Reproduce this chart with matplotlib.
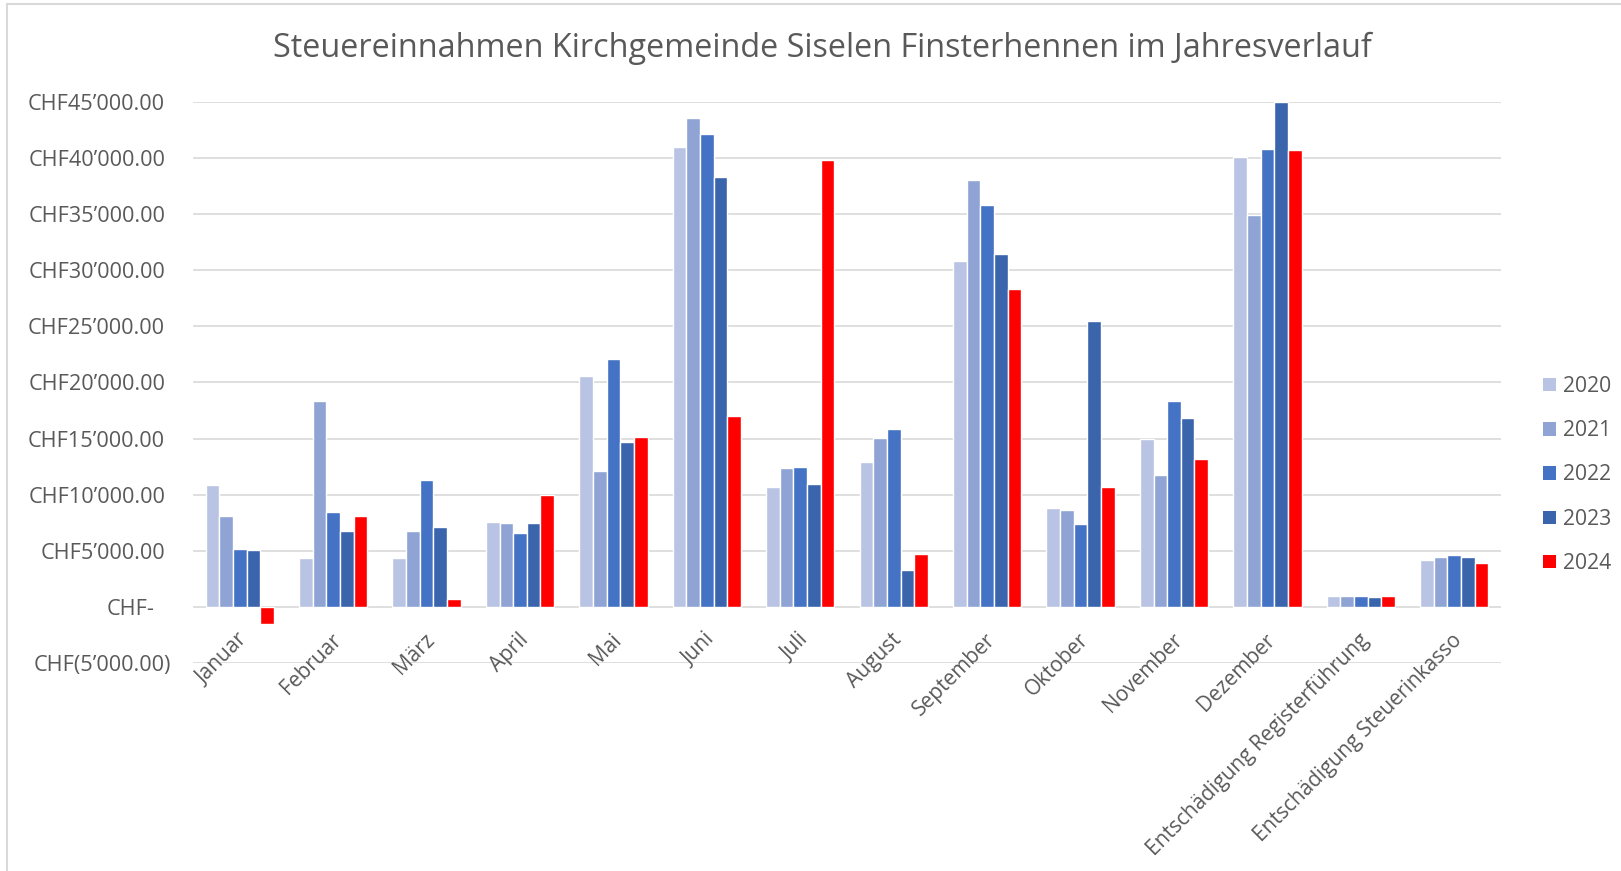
import matplotlib
matplotlib.use("Agg")
import matplotlib.pyplot as plt
import matplotlib.transforms as mtransforms
from matplotlib.lines import Line2D
from matplotlib.patches import Patch
import numpy as np

plt.rcParams['font.family'] = ['Open Sans', 'DejaVu Sans']

categories = ['Januar', 'Februar', 'März', 'April', 'Mai', 'Juni', 'Juli', 'August',
              'September', 'Oktober', 'November', 'Dezember',
              'Entschädigung Registerführung', 'Entschädigung Steuerinkasso']
years = ['2020', '2021', '2022', '2023', '2024']

v2020 = [10900, 4400, 4400, 7600, 20600, 41000, 10700, 12900, 30850, 8800, 14950, 40100, 950, 4200]
v2021 = [8100, 18350, 6800, 7450, 12150, 43600, 12350, 15050, 38050, 8650, 11750, 34950, 950, 4450]
v2022 = [5150, 8450, 11300, 6600, 22050, 42150, 12450, 15850, 35800, 7400, 18350, 40850, 950, 4600]
v2023 = [5100, 6750, 7100, 7450, 14700, 38350, 10950, 3300, 31450, 25500, 16850, 45000, 900, 4450]
v2024 = [-1500, 8100, 700, 9950, 15150, 17000, 39800, 4700, 28300, 10700, 13150, 40750, 950, 3900]

yticks = [-5000, 0, 5000, 10000, 15000, 20000, 25000, 30000, 35000, 40000, 45000]
ytick_labels = ['CHF(5’000.00)', 'CHF-', 'CHF5’000.00', 'CHF10’000.00', 'CHF15’000.00',
                'CHF20’000.00', 'CHF25’000.00', 'CHF30’000.00', 'CHF35’000.00',
                'CHF40’000.00', 'CHF45’000.00']

colors = ['#B9C3E3', '#8FA4D4', '#4472C4', '#3A64AC', '#FF0000']
text_col = '#595959'
grid_col = '#D9D9D9'

W, H = 1621, 871
fig = plt.figure(figsize=(W / 100, H / 100), dpi=100)
ax = fig.add_axes([193 / W, 1 - 663 / H, (1501 - 193) / W, (663 - 102) / H])

x = np.arange(len(categories))
slot = 0.146
series = [v2020, v2021, v2022, v2023, v2024]
for k, (vals, c) in enumerate(zip(series, colors)):
    ax.bar(x + (k - 2) * slot, vals, width=slot, color=c, edgecolor='white',
           linewidth=1.0, zorder=3)

ax.set_xlim(-0.5, len(categories) - 0.5)
ax.set_ylim(-5000, 45000)
ax.set_yticks(yticks)
ax.yaxis.grid(True, color=grid_col, linewidth=1.2, zorder=0)
ax.set_axisbelow(True)
ax.tick_params(left=False, bottom=False, labelleft=False, labelbottom=False)
for s in ax.spines.values():
    s.set_visible(False)

# y labels (accounting format alignment)
ytr = ax.get_yaxis_transform()
for val, lab in zip(yticks, ytick_labels):
    if val < 0:
        dx = -22
    elif val == 0:
        dx = -38
    else:
        dx = -28
    t = mtransforms.offset_copy(ytr, fig=fig, x=dx, y=0, units='dots')
    ax.text(0, val, lab, transform=t, ha='right', va='center_baseline',
            fontsize=15.6, color=text_col)

# x labels hang from the zero line
xt = mtransforms.offset_copy(ax.transData, fig=fig, x=5, y=-30, units='dots')
for i, lab in enumerate(categories):
    ax.text(i, 0, lab, transform=xt, ha='right', va='center', rotation=45,
            rotation_mode='anchor', fontsize=15, color=text_col)

fig.text(822 / W, 1 - 48 / H, 'Steuereinnahmen Kirchgemeinde Siselen Finsterhennen im Jahresverlauf',
         ha='center', va='center', fontsize=23.3, color=text_col)

handles = [Patch(facecolor=c, edgecolor='none') for c in colors]
fig.legend(handles, years, loc='center left', bbox_to_anchor=(1543 / W, 1 - 475 / H),
           frameon=False, fontsize=15.2, labelcolor=text_col, handlelength=0.6,
           handleheight=0.6, handletextpad=0.35, labelspacing=1.1, borderpad=0,
           borderaxespad=0)

# chart area border
fig.add_artist(Line2D([7 / W, 7 / W], [0, 1 - 4 / H], color=grid_col, linewidth=1.5))
fig.add_artist(Line2D([7 / W, 1], [1 - 4 / H, 1 - 4 / H], color=grid_col, linewidth=1.5))

fig.savefig('out.png', dpi=100)
